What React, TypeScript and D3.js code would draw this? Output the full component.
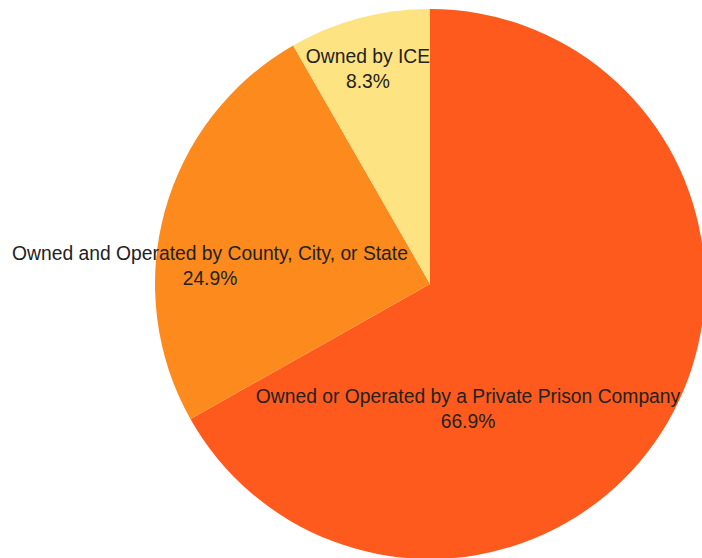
import React from "react";
import * as d3 from "d3";

const categories = [
  "Owned or Operated by a Private Prison Company",
  "Owned and Operated by County, City, or State",
  "Owned by ICE",
];
const values = [66.9, 24.9, 8.3];
const percentLabels = ["66.9%", "24.9%", "8.3%"];
const colors = ["#FE5A1D", "#FD8A1D", "#FEE383"];

const W = 702;
const H = 558;
const cx = 430;
const cy = 284;
const R = 275;
// label anchor offsets from the pie centre (dx, dy)
const labelOffsets: [number, number][] = [
  [38, 119],
  [-220, -24],
  [-62, -221],
];

export default function App() {
  const pie = d3.pie<number>().sort(null).value((d) => d)(values);
  const arc = d3.arc<d3.PieArcDatum<number>>().innerRadius(0).outerRadius(R);
  return (
    <svg
      width={W}
      height={H}
      style={{ position: "absolute", left: 0, top: 0, background: "#fff" }}
      fontFamily="'Liberation Sans', Arial, sans-serif"
    >
      <g transform={`translate(${cx},${cy})`}>
        {pie.map((p, i) => (
          <path key={i} d={arc(p) || ""} fill={colors[i]} />
        ))}
        {pie.map((p, i) => (
          <text
            key={"t" + i}
            x={labelOffsets[i][0]}
            y={labelOffsets[i][1]}
            textAnchor="middle"
            fontSize={19.3}
            fill="#222"
          >
            <tspan x={labelOffsets[i][0]} dy={0}>{categories[i]}</tspan>
            <tspan x={labelOffsets[i][0]} dy={25}>{percentLabels[i]}</tspan>
          </text>
        ))}
      </g>
    </svg>
  );
}
